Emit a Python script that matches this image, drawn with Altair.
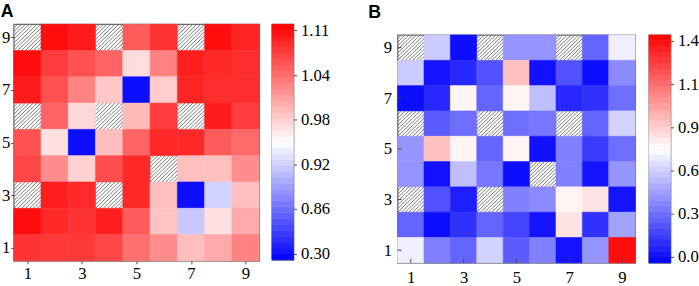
import json
import numpy as np
import pandas as pd
import altair as alt

# ---------------- data ----------------
cols = [1, 2, 3, 4, 5, 6, 7, 8, 9]
rows = [9, 8, 7, 6, 5, 4, 3, 2, 1]          # top row first
axis_ticks = [1, 3, 5, 7, 9]

# Panel A (None = hatched / missing cell)
a_row9 = [None, 1.110, 1.100, None, 1.054, 1.083, None, 1.110, 1.094]
a_row8 = [1.110, 1.076, 1.061, 1.047, 0.971, 1.027, 1.097, 1.090, 1.087]
a_row7 = [1.100, 1.061, 1.027, 0.984, 0.300, 0.981, 1.094, 1.087, 1.087]
a_row6 = [None, 1.047, 0.975, None, 0.993, 1.076, None, 1.100, 1.076]
a_row5 = [1.061, 0.969, 0.300, 0.990, 1.047, 1.090, 1.090, 1.054, 1.043]
a_row4 = [1.069, 1.021, 0.978, 1.065, 1.090, None, 0.990, 0.990, 1.021]
a_row3 = [None, 1.097, 1.090, None, 1.090, 0.990, 0.300, 0.922, 0.990]
a_row2 = [1.110, 1.090, 1.083, 1.097, 1.054, 0.987, 0.916, 0.969, 1.003]
a_row1 = [1.083, 1.079, 1.079, 1.069, 1.039, 1.021, 0.990, 1.003, 1.027]
a_values = [a_row9, a_row8, a_row7, a_row6, a_row5, a_row4, a_row3, a_row2, a_row1]

# Panel B
b_row9 = [None, 0.59, 0.00, None, 0.42, 0.42, None, 0.27, 0.70]
b_row8 = [0.59, 0.02, 0.08, 0.21, 0.93, 0.01, 0.21, 0.00, 0.39]
b_row7 = [0.00, 0.08, 0.78, 0.27, 0.78, 0.55, 0.08, 0.11, 0.30]
b_row6 = [None, 0.24, 0.30, None, 0.30, 0.33, None, 0.27, 0.61]
b_row5 = [0.42, 0.93, 0.78, 0.27, 0.78, 0.01, 0.36, 0.14, 0.30]
b_row4 = [0.42, 0.01, 0.55, 0.33, 0.00, None, 0.36, 0.02, 0.42]
b_row3 = [None, 0.21, 0.05, None, 0.36, 0.39, 0.78, 0.84, 0.02]
b_row2 = [0.27, 0.00, 0.11, 0.27, 0.17, 0.02, 0.84, 0.11, 0.46]
b_row1 = [0.70, 0.36, 0.27, 0.61, 0.24, 0.36, 0.02, 0.42, 1.40]
b_values = [b_row9, b_row8, b_row7, b_row6, b_row5, b_row4, b_row3, b_row2, b_row1]

# colour-bar tick values and their labels
a_cbar_ticks = [0.30, 0.86, 0.92, 0.98, 1.04, 1.11]
a_cbar_labels = ["0.30", "0.86", "0.92", "0.98", "1.04", "1.11"]
b_cbar_ticks = [0.0, 0.3, 0.6, 0.9, 1.1, 1.4]
b_cbar_labels = ["0.0", "0.3", "0.6", "0.9", "1.1", "1.4"]

panel_labels = ["A", "B"]

# ---------------- styling ----------------
BWR = ["#0000ff", "#ffffff", "#ff0000"]
IDX_LO, IDX_HI = -0.14, 5.14
FRAME = "#6e6e6e"
SERIF = "Liberation Serif"
SANS = "Liberation Sans"
N_STEPS = 40

cscale = alt.Scale(domain=[IDX_LO, (IDX_LO + IDX_HI) / 2, IDX_HI], range=BWR,
                   interpolate="rgb", clamp=True)


def tables(values, ticks):
    recs, hatch = [], []
    for r, rowvals in zip(rows, values):
        for c, v in zip(cols, rowvals):
            if v is None:
                hatch.append((c, r))
            else:
                recs.append({"col": c, "row": r, "value": v,
                             "idx": float(np.interp(v, ticks, range(len(ticks))))})
    df = pd.DataFrame(recs)
    df["x0"] = df["col"] - 0.5
    df["x1"] = df["col"] + 0.5
    df["y0"] = df["row"] - 0.5
    df["y1"] = df["row"] + 0.5
    lines = []
    step = 1 / 7
    for c, r in hatch:
        for k in range(-6, 7):
            off = k * step
            if off >= 0:
                xa, ya, xb, yb = 0.0, off, 1 - off, 1.0
            else:
                xa, ya, xb, yb = -off, 0.0, 1.0, 1 + off
            lines.append({"hx": c - 0.5 + xa, "hy": r - 0.5 + ya,
                          "hx2": c - 0.5 + xb, "hy2": r - 0.5 + yb})
    return df, pd.DataFrame(lines)


def axis(**kw):
    return alt.Axis(title=None, grid=False, domain=False, labelFont=SERIF,
                    labelFontSize=17, labelColor="black", tickColor="#444", **kw)


def heat(values, ticks, w, h, inward):
    df, hdf = tables(values, ticks)
    xs = alt.Scale(domain=[0.5, 9.5], nice=False, zero=False)
    ys = alt.Scale(domain=[0.5, 9.5], nice=False, zero=False)
    tsize = 0 if inward else 3
    lpad = 6 if inward else 1
    xaxis = axis(values=axis_ticks, format="d", tickSize=tsize, labelPadding=lpad + 1)
    yaxis = axis(values=axis_ticks, format="d", tickSize=tsize, labelPadding=lpad)
    cells = alt.Chart(df).mark_rect(strokeWidth=0.6).encode(
        x=alt.X("x0:Q", scale=xs, axis=xaxis),
        x2="x1:Q",
        y=alt.Y("y0:Q", scale=ys, axis=yaxis),
        y2="y1:Q",
        color=alt.Color("idx:Q", scale=cscale, legend=None),
        stroke=alt.Stroke("idx:Q", scale=cscale, legend=None),
    )
    hatch = alt.Chart(hdf).mark_rule(color="#5a5a5a", strokeWidth=0.8).encode(
        x="hx:Q", y="hy:Q", x2="hx2:Q", y2="hy2:Q")
    layers = [cells, hatch]
    if inward:
        tdf = pd.DataFrame({"t": axis_ticks})
        bt = alt.Chart(tdf).mark_rule(color="#444", strokeWidth=1).encode(
            x="t:Q", y=alt.value(h), y2=alt.value(h - 4))
        lt = alt.Chart(tdf).mark_rule(color="#444", strokeWidth=1).encode(
            y="t:Q", x=alt.value(0), x2=alt.value(4))
        layers += [bt, lt]
    return alt.layer(*layers).properties(width=w, height=h)


def cbar(labels, h):
    edges = np.linspace(IDX_LO, IDX_HI, N_STEPS + 1)
    df = pd.DataFrame({"lo": edges[:-1], "hi": edges[1:],
                       "mid": (edges[:-1] + edges[1:]) / 2})
    expr = json.dumps(labels) + "[datum.value]"
    ax = axis(orient="right", values=list(range(len(labels))), labelExpr=expr,
              tickSize=3, labelPadding=4)
    return alt.Chart(df).mark_rect(strokeWidth=0.6).encode(
        x=alt.value(0), x2=alt.value(22),
        y=alt.Y("lo:Q", scale=alt.Scale(domain=[IDX_LO, IDX_HI], nice=False, zero=False), axis=ax),
        y2="hi:Q",
        color=alt.Color("mid:Q", scale=cscale, legend=None),
        stroke=alt.Stroke("mid:Q", scale=cscale, legend=None),
    ).properties(width=22, height=h)


def label_spacer(label, h):
    # small invisible view holding the panel letter
    return alt.Chart(pd.DataFrame({"label": [label]})).mark_text(
        font=SANS, fontSize=18, fontWeight="bold", color="black",
        align="left", baseline="top").encode(
        text="label:N", x=alt.value(-30), y=alt.value(-20)
    ).properties(width=1, height=h, view=alt.ViewBackground(stroke="transparent"))


panel_a = alt.hconcat(heat(a_values, a_cbar_ticks, 250, 241, False),
                      cbar(a_cbar_labels, 240),
                      spacing=11,
                      title=alt.TitleParams(text=panel_labels[0], anchor="start", font=SANS,
                                            fontSize=18, fontWeight="bold", color="black",
                                            offset=0))
panel_b = alt.vconcat(
    label_spacer(panel_labels[1], 6),
    alt.hconcat(heat(b_values, b_cbar_ticks, 242, 232, True),
                cbar(b_cbar_labels, 232), spacing=12),
    spacing=0)

chart = alt.hconcat(panel_a, panel_b, spacing=37).properties(
    padding={"left": 0, "top": 0, "right": 0, "bottom": 0}
).configure_view(
    stroke=FRAME, strokeWidth=1.3
)

chart.save("out.html", embed_options={"renderer": "svg", "actions": False})
